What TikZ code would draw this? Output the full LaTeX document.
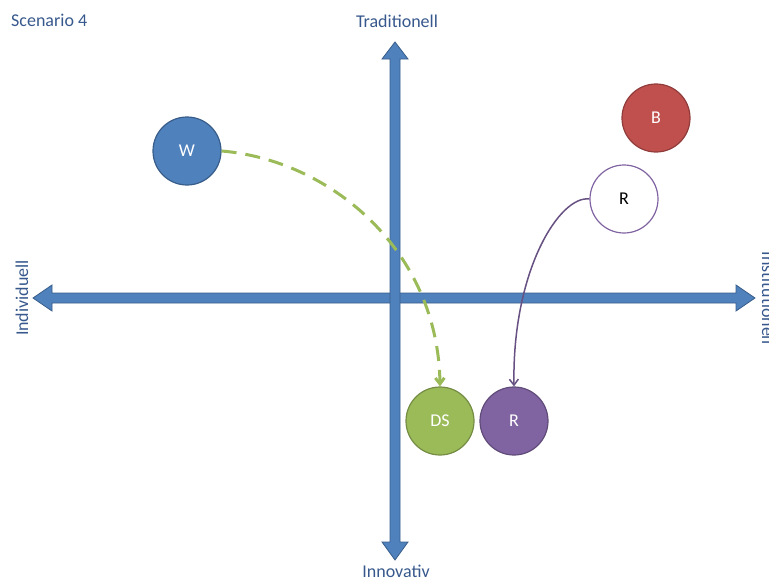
\documentclass[tikz,border=0pt]{standalone}
\usepackage{fontspec}
\setmainfont{Carlito}
\usetikzlibrary{arrows.meta,positioning}
\definecolor{axisfill}{RGB}{79,129,189}
\definecolor{axisline}{RGB}{56,93,138}
\definecolor{labelblue}{RGB}{55,88,140}
\definecolor{offblue}{RGB}{79,129,189}
\definecolor{offred}{RGB}{192,80,77}
\definecolor{offgreen}{RGB}{155,187,89}
\definecolor{offpurple}{RGB}{128,100,162}

\begin{document}
\begin{tikzpicture}[x=1pt,y=-1pt, every node/.style={font=\fontsize{18}{21}\selectfont}, ball/.style={circle,draw,line width=1.2pt,minimum size=68pt,inner sep=0pt,text=white}, lbl/.style={text=labelblue,inner sep=0pt}, axis/.style={fill=axisfill,draw=axisline,line width=0.8pt,line join=miter}, arr/.style={-{Straight Barb[length=6pt,width=9pt]}}]
\useasboundingbox (0,0) rectangle (769,581);
\clip (0,0) rectangle (769,581);
% axes
\draw[axis] (33,298) -- (52,285) -- (52,293) -- (736,293) -- (736,285) -- (755,298) -- (736,311) -- (736,303) -- (52,303) -- (52,311) -- cycle;
\draw[axis] (395,42) -- (408,59) -- (400,59) -- (400,542) -- (408,542) -- (395,560) -- (382,542) -- (390,542) -- (390,59) -- (382,59) -- cycle;
% labels
\node[lbl,anchor=west] (scen) at (11,20) {Scenario 4};
\node[lbl] (trad) at (397,21) {Traditionell};
\node[lbl] (inno) at (396,571) {Innovativ};
\node[lbl,rotate=90,anchor=base] (indi) at (28,298) {Individuell};
\node[lbl,rotate=-90,anchor=base] (inst) at (762,298) {Institutionell};
% actors
\node[ball,fill=offblue,draw=axisline] (w) at (187,151) {W};
\node[ball,fill=offred,draw=offred!75!black] (b) at (656,118) {B};
\node[ball,fill=white,draw=offpurple,text=black] (r1) at (624,199) {R};
\node[ball,fill=offgreen,draw=offgreen!75!black] (ds) at (440,421) {DS};
\node[ball,fill=offpurple,draw=offpurple!75!black] (r2) at (514,421) {R};
% moves
\draw[arr,offgreen,line width=3pt,dash pattern=on 15pt off 9pt] (w.east) .. controls (330,160) and (438,250) .. (ds.north);
\draw[arr,offpurple!80!black,line width=1.5pt] (r1.west) .. controls (560,195) and (512,270) .. (r2.north);
\end{tikzpicture}
\end{document}
